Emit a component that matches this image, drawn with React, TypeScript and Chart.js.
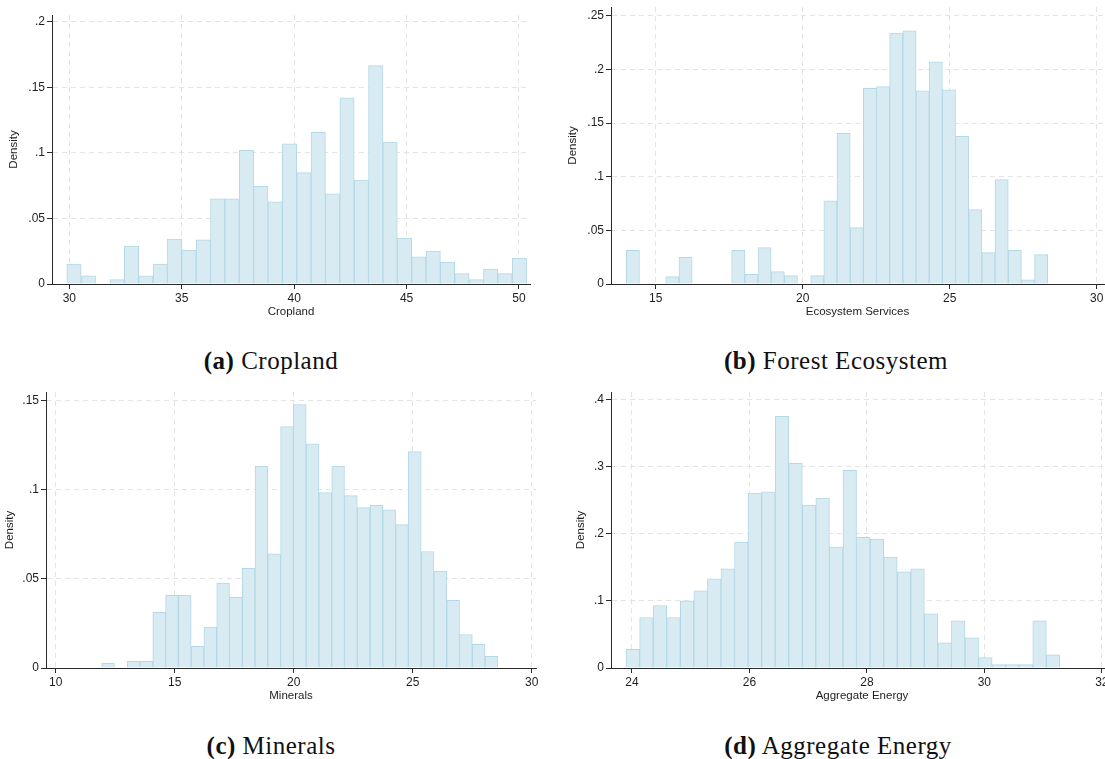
import React, { useEffect, useRef } from 'react';
import { Chart, registerables } from 'chart.js';

Chart.register(...registerables);

// ---------- Data ----------
// (a) Cropland
const cropBinStart = 29.89;
const cropBinWidth = 0.639;
const cropDensity = [0.0152, 0.0063, 0, 0.0033, 0.0289, 0.0063, 0.0152, 0.0343, 0.0259, 0.0338, 0.065, 0.065, 0.102, 0.0746, 0.0627, 0.1069, 0.085, 0.1157, 0.0688, 0.1421, 0.0794, 0.1667, 0.1084, 0.035, 0.0208, 0.0251, 0.0168, 0.0079, 0.0033, 0.0114, 0.0079, 0.0198];
const cropXTicks = [30, 35, 40, 45, 50];
const cropYTicks = [0, 0.05, 0.1, 0.15, 0.2];

// (b) Forest Ecosystem
const forestBinStart = 14.0;
const forestBinWidth = 0.448;
const forestDensity = [0.0314, 0, 0, 0.0068, 0.0248, 0, 0, 0, 0.0314, 0.009, 0.0339, 0.0115, 0.0078, 0, 0.0078, 0.0776, 0.1404, 0.0525, 0.1823, 0.1839, 0.2339, 0.236, 0.1801, 0.2071, 0.181, 0.1376, 0.0693, 0.0292, 0.0972, 0.0314, 0.004, 0.0273];
const forestXTicks = [15, 20, 25, 30];
const forestYTicks = [0, 0.05, 0.1, 0.15, 0.2, 0.25];

// (c) Minerals
const minBinStart = 11.93;
const minBinWidth = 0.537;
const minDensity = [0.0026, 0, 0.0037, 0.0037, 0.0312, 0.0407, 0.0407, 0.0121, 0.0229, 0.0476, 0.0396, 0.0558, 0.1132, 0.064, 0.1353, 0.1476, 0.1256, 0.0983, 0.1132, 0.0966, 0.0899, 0.0912, 0.0886, 0.0804, 0.1213, 0.0653, 0.0543, 0.0379, 0.0188, 0.0132, 0.0065];
const minXTicks = [10, 15, 20, 25, 30];
const minYTicks = [0, 0.05, 0.1, 0.15];

// (d) Aggregate Energy
const energyBinStart = 23.9;
const energyBinWidth = 0.2308;
const energyDensity = [0.0278, 0.0753, 0.0932, 0.0753, 0.1001, 0.115, 0.1328, 0.1477, 0.1879, 0.2607, 0.2627, 0.3752, 0.3053, 0.2429, 0.2533, 0.1804, 0.2949, 0.1948, 0.1923, 0.1655, 0.1432, 0.1477, 0.0808, 0.0377, 0.0704, 0.0451, 0.0154, 0.005, 0.005, 0.005, 0.0704, 0.0198];
const energyXTicks = [24, 26, 28, 30, 32];
const energyYTicks = [0, 0.1, 0.2, 0.3, 0.4];

// ---------- Style ----------
const FILL = '#d9ebf2';
const EDGE = '#b3d8e6';
const GRID = '#e4e4e4';
const AXIS = '#2a2a2a';
const TEXT = '#1e1e1e';
const SANS = '"Liberation Sans", Arial, Helvetica, sans-serif';
const YW = 52; // y-axis box width
const XH = 40; // x-axis box height
const PT = 10;
const PR = 5;

type PanelProps = {
  areaLeft: number; areaTop: number; areaRight: number; areaBottom: number;
  xMin: number; xMax: number; yMax: number;
  xTicks: number[]; yTicks: number[];
  binStart: number; binWidth: number; density: number[];
  xTitle: string; yTitlePad: number;
};

function fmtY(v: number): string {
  if (v === 0) return '0';
  return String(Math.round(v * 1000) / 1000).replace(/^0/, '');
}

function HistPanel(p: PanelProps) {
  const ref = useRef<HTMLCanvasElement>(null);
  const w = YW + (p.areaRight - p.areaLeft) + PR;
  const h = PT + (p.areaBottom - p.areaTop) + XH;
  const left = p.areaLeft - YW;
  const top = p.areaTop - PT;

  useEffect(() => {
    const points = p.density.map((d, i) => ({ x: p.binStart + (i + 0.5) * p.binWidth, y: d }));
    const chart = new Chart(ref.current as HTMLCanvasElement, {
      type: 'bar',
      data: {
        datasets: [{
          data: points as any,
          backgroundColor: FILL,
          borderColor: EDGE,
          borderWidth: 1,
          barPercentage: 1,
          categoryPercentage: 1,
          borderSkipped: 'start',
        }],
      },
      options: {
        animation: false,
        responsive: false,
        maintainAspectRatio: false,
        events: [],
        layout: { padding: { top: PT, right: PR, left: 0, bottom: 0 } },
        plugins: { legend: { display: false }, tooltip: { enabled: false } },
        scales: {
          x: {
            type: 'linear',
            min: p.xMin,
            max: p.xMax,
            offset: false,
            afterBuildTicks: (s: any) => { s.ticks = p.xTicks.map(v => ({ value: v })); },
            afterFit: (s: any) => { s.height = XH; },
            ticks: {
              autoSkip: false, maxRotation: 0, padding: 2, color: TEXT,
              font: { family: SANS, size: 12 },
              callback: (v: any) => String(v),
            },
            grid: { offset: false, color: GRID, lineWidth: 1, tickColor: AXIS, tickLength: 5, tickWidth: 1 },
            border: { display: true, color: AXIS, width: 1, dash: [5, 4] },
            title: {
              display: true, text: p.xTitle, color: TEXT,
              font: { family: SANS, size: 11.5 },
              padding: { top: 0, bottom: 5 },
            },
          },
          y: {
            type: 'linear',
            min: 0,
            max: p.yMax,
            afterBuildTicks: (s: any) => { s.ticks = p.yTicks.map(v => ({ value: v })); },
            afterFit: (s: any) => { s.width = YW; },
            ticks: {
              autoSkip: false, padding: 2, color: TEXT,
              font: { family: SANS, size: 12 },
              callback: (v: any) => fmtY(Number(v)),
            },
            grid: { color: GRID, lineWidth: 1, tickColor: AXIS, tickLength: 5, tickWidth: 1 },
            border: { display: true, color: AXIS, width: 1, dash: [5, 4] },
            title: {
              display: true, text: 'Density', color: TEXT,
              font: { family: SANS, size: 11.5 },
              padding: { top: p.yTitlePad, bottom: 0 },
            },
          },
        },
      },
    } as any);
    return () => chart.destroy();
  }, []);

  return (
    <canvas
      ref={ref}
      width={w}
      height={h}
      style={{ position: 'absolute', left, top, width: w, height: h }}
    />
  );
}

function Caption({ cx, cy, label, text }: { cx: number; cy: number; label: string; text: string }) {
  return (
    <div
      style={{
        position: 'absolute', left: cx - 200, top: cy - 15, width: 400, height: 30,
        lineHeight: '30px', textAlign: 'center', whiteSpace: 'nowrap',
        fontFamily: '"Liberation Serif", "Times New Roman", serif', fontSize: 25, letterSpacing: 0.5,
        color: '#111',
      }}
    >
      <span style={{ fontWeight: 'bold' }}>{label}</span> {text}
    </div>
  );
}

export default function App() {
  return (
    <div style={{ position: 'fixed', left: 0, top: 0, width: 1105, height: 759, overflow: 'hidden', background: '#fff' }}>
      <HistPanel
        areaLeft={52} areaTop={15} areaRight={530} areaBottom={284}
        xMin={29.23} xMax={50.49} yMax={0.2053}
        xTicks={cropXTicks} yTicks={cropYTicks}
        binStart={cropBinStart} binWidth={cropBinWidth} density={cropDensity}
        xTitle="Cropland" yTitlePad={7}
      />
      <HistPanel
        areaLeft={611} areaTop={7} areaRight={1104} areaBottom={284}
        xMin={13.48} xMax={30.25} yMax={0.2581}
        xTicks={forestXTicks} yTicks={forestYTicks}
        binStart={forestBinStart} binWidth={forestBinWidth} density={forestDensity}
        xTitle="Ecosystem Services" yTitlePad={7}
      />
      <HistPanel
        areaLeft={46} areaTop={392} areaRight={536} areaBottom={668}
        xMin={9.59} xMax={30.18} yMax={0.1547}
        xTicks={minXTicks} yTicks={minYTicks}
        binStart={minBinStart} binWidth={minBinWidth} density={minDensity}
        xTitle="Minerals" yTitlePad={9}
      />
      <HistPanel
        areaLeft={611} areaTop={392} areaRight={1113} areaBottom={668}
        xMin={23.643} xMax={32.19} yMax={0.4115}
        xTicks={energyXTicks} yTicks={energyYTicks}
        binStart={energyBinStart} binWidth={energyBinWidth} density={energyDensity}
        xTitle="Aggregate Energy" yTitlePad={15}
      />
      <Caption cx={271} cy={361} label="(a)" text="Cropland" />
      <Caption cx={836} cy={361} label="(b)" text="Forest Ecosystem" />
      <Caption cx={271} cy={746} label="(c)" text="Minerals" />
      <Caption cx={838} cy={746} label="(d)" text="Aggregate Energy" />
    </div>
  );
}
